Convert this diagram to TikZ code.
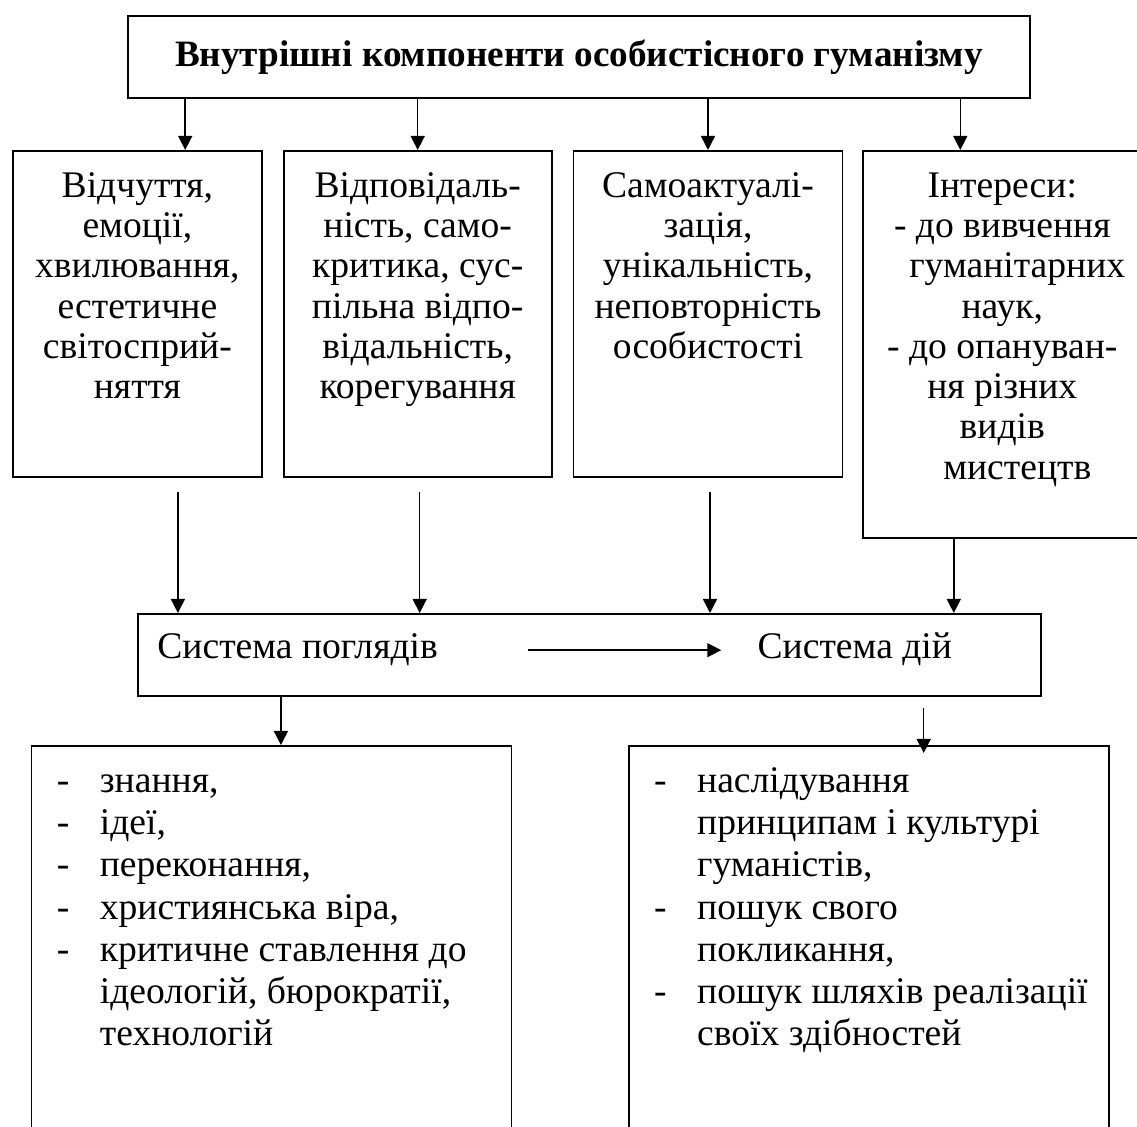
\documentclass[tikz,border=0pt]{standalone}
\usepackage{fontspec}
\setmainfont{Liberation Serif}
\usetikzlibrary{arrows.meta,positioning}
\tikzset{
  box/.style={draw=black,line width=0.9pt,inner sep=0pt,anchor=north west},
  boxtext/.style={inner sep=0pt,align=center,font=\fontsize{18.8}{20.15}\selectfont},
  listtext/.style={inner sep=0pt,align=left,anchor=north west,font=\fontsize{18.8}{21.1}\selectfont},
  plain/.style={inner sep=0pt,font=\fontsize{18.8}{20.15}\selectfont},
  flow/.style={-{Triangle[length=7pt,width=7pt]},line width=0.75pt}
}
\newcommand{\dashitem}{\makebox[21.5pt][l]{-}}
\newcommand{\dashcont}{\hspace*{21.5pt}}

\begin{document}
\begin{tikzpicture}[x=0.5pt,y=-0.5pt]
  \useasboundingbox (0,0) rectangle (1137,1127);

  % head
  \node[box,minimum width=451pt,minimum height=41pt,font=\fontsize{18.6}{22}\selectfont\bfseries] (top) at (127,15) {Внутрішні компоненти особистісного гуманізму};

  % components
  \node[box,minimum width=124.5pt,minimum height=163pt] (b1) at (12,150) {};
  \node[box,right=10pt of b1.north east,anchor=north west,minimum width=134pt,minimum height=163pt] (b2) {};
  \node[box,right=10pt of b2.north east,anchor=north west,minimum width=134.5pt,minimum height=163pt] (b3) {};
  \node[box,right=9.5pt of b3.north east,anchor=north west,minimum width=142pt,minimum height=193.5pt] (b4) {};

  \node[boxtext,below=9.25pt of b1.north] (t1) {\strut Відчуття,\\емоції,\\хвилювання,\\естетичне\\світосприй-\\няття};
  \node[boxtext,below=9.25pt of b2.north] (t2) {\strut Відповідаль-\\ність, само-\\критика, сус-\\пільна відпо-\\відальність,\\корегування};
  \node[boxtext,below=9.25pt of b3.north] (t3) {\strut Самоактуалі-\\зація,\\унікальність,\\неповторність\\особистості};
  \node[boxtext,below=9.25pt of b4.north,xshift=-1.5pt] (t4) {\strut Інтереси:\\- до вивчення\\\hspace*{15pt}гуманітарних\\наук,\\- до опануван-\\ня різних\\видів\\\hspace*{15pt}мистецтв};

  \draw[flow] ([xshift=23.9pt]b1.north |- top.south) -- ([xshift=23.9pt]b1.north);
  \draw[flow] (b2.north |- top.south) -- (b2.north);
  \draw[flow] (b3.north |- top.south) -- (b3.north);
  \draw[flow] ([xshift=-22.5pt]b4.north |- top.south) -- ([xshift=-22.5pt]b4.north);

  % systems
  \node[box,minimum width=451.5pt,minimum height=41pt] (mid) at (137,613) {};
  \node[plain,anchor=base west] (views) at ([xshift=10pt,yshift=-23pt]mid.north west) {Система поглядів};
  \node[plain,right=159.5pt of views.base east,anchor=base west] (acts) {Система дій};
  \draw[flow,shorten <=45pt,shorten >=18pt] (views.east) -- (views.east -| acts.west);

  \draw[flow] ([xshift=20.25pt,yshift=-7pt]b1.south) -- ([xshift=20.25pt]b1.south |- mid.north);
  \draw[flow] ([xshift=1pt,yshift=-7pt]b2.south) -- ([xshift=1pt]b2.south |- mid.north);
  \draw[flow] ([xshift=1pt,yshift=-7pt]b3.south) -- ([xshift=1pt]b3.south |- mid.north);
  \draw[flow] ([xshift=-25.75pt]b4.south) -- ([xshift=-25.75pt]b4.south |- mid.north);

  % lists
  \node[box,minimum width=240pt,minimum height=200pt] (bl) at (30.5,745) {};
  \node[box,right=57.75pt of bl.north east,anchor=north west,minimum width=240pt,minimum height=200pt] (br) {};

  \node[listtext] (l1) at ([xshift=13pt,yshift=-8.8pt]bl.north west) {\strut\dashitem знання,\\\dashitem ідеї,\\\dashitem переконання,\\\dashitem християнська віра,\\\dashitem критичне ставлення до\\\dashcont ідеологій, бюрократії,\\\dashcont технологій};
  \node[listtext] (l2) at ([xshift=13pt,yshift=-8.8pt]br.north west) {\strut\dashitem наслідування\\\dashcont принципам і культурі\\\dashcont гуманістів,\\\dashitem пошук свого\\\dashcont покликання,\\\dashitem пошук шляхів реалізації\\\dashcont своїх здібностей};

  \draw[flow] ([xshift=4.75pt]bl.north |- mid.south) -- ([xshift=4.75pt]bl.north);
  \draw[flow] ([xshift=27.5pt,yshift=-5.85pt]br.north |- mid.south) -- ([xshift=27.5pt,yshift=-4pt]br.north);
\end{tikzpicture}
\end{document}
